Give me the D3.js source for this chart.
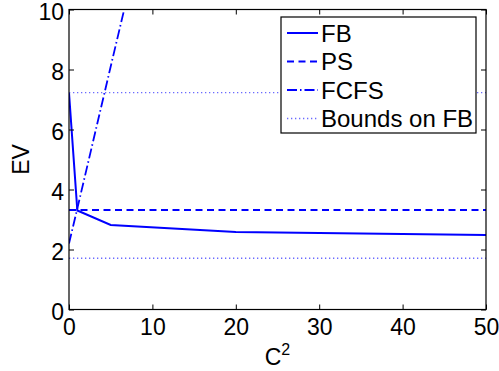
<!DOCTYPE html>
<html>
<head>
<meta charset="utf-8">
<script src="https://cdn.jsdelivr.net/npm/d3@7"></script>
<style>
  body { margin: 0; background: #fff; }
  svg { display: block; font-family: "Liberation Sans", Arial, sans-serif; }
</style>
</head>
<body>
<svg id="chart" width="499" height="371"></svg>
<script>
// values
const c2Values = [0, 1, 5, 20, 50];
const fbValues = [7.22, 3.3, 2.82, 2.58, 2.48];
const psValues = [3.32, 3.32, 3.32, 3.32, 3.32];
const fcfsValues = [2.2, 3.37, 8.1, 25.7, 61.1];
const upperBound = [7.23, 7.23, 7.23, 7.23, 7.23];
const lowerBound = [1.71, 1.71, 1.71, 1.71, 1.71];
const xTicks = [0, 10, 20, 30, 40, 50];
const yTicks = [0, 2, 4, 6, 8, 10];
const legendNames = ["FB", "PS", "FCFS", "Bounds on FB"];

const svg = d3.select("#chart");
const margin = {top: 9.5, right: 13, bottom: 61.5, left: 69};
const width = +svg.attr("width");
const height = +svg.attr("height");

const x = d3.scaleLinear().domain([0, 50]).range([margin.left, width - margin.right]);
const y = d3.scaleLinear().domain([0, 10]).range([height - margin.bottom, margin.top]);

// series styles, matlab look
const series = [
  {name: legendNames[0], values: fbValues, dash: null, width: 2, color: "#0000ff"},
  {name: legendNames[1], values: psValues, dash: "7,4.5", width: 2, color: "#0000ff"},
  {name: legendNames[2], values: fcfsValues, dash: "10,3,1.5,3", width: 1.8, color: "#0000ff"},
  {name: legendNames[3], values: upperBound, dash: "1.3,2.7", width: 1.4, color: "#6a6aff"},
  {name: legendNames[3], values: lowerBound, dash: "1.3,2.7", width: 1.4, color: "#6a6aff"}
];

svg.append("defs").append("clipPath").attr("id", "plot-clip")
  .append("rect")
  .attr("x", margin.left).attr("y", margin.top)
  .attr("width", x(50) - x(0)).attr("height", y(0) - y(10));

const line = d3.line()
  .x((d, i) => x(c2Values[i]))
  .y(d => y(d));

const plot = svg.append("g").attr("clip-path", "url(#plot-clip)");
plot.selectAll("path")
  .data(series)
  .enter().append("path")
  .attr("fill", "none")
  .attr("stroke", d => d.color)
  .attr("stroke-width", d => d.width)
  .attr("stroke-dasharray", d => d.dash)
  .attr("d", d => line(d.values));

// axes: ticks inward on all four sides
const tickLen = 5;
svg.append("g")
  .attr("transform", `translate(0,${y(0)})`)
  .call(d3.axisBottom(x).tickValues(xTicks).tickSizeInner(-tickLen).tickSizeOuter(0).tickPadding(9))
  .call(g => g.select(".domain").remove());
svg.append("g")
  .attr("transform", `translate(0,${y(10)})`)
  .call(d3.axisTop(x).tickValues(xTicks).tickSizeInner(-tickLen).tickSizeOuter(0).tickFormat(""))
  .call(g => g.select(".domain").remove());
svg.append("g")
  .attr("class", "y-left")
  .attr("transform", `translate(${x(0)},0)`)
  .call(d3.axisLeft(y).tickValues(yTicks).tickSizeInner(-tickLen).tickSizeOuter(0).tickPadding(5))
  .call(g => g.select(".domain").remove())
  .call(g => g.selectAll(".tick text").attr("dy", "0.42em"));
svg.append("g")
  .attr("transform", `translate(${x(50)},0)`)
  .call(d3.axisRight(y).tickValues(yTicks).tickSizeInner(-tickLen).tickSizeOuter(0).tickFormat(""))
  .call(g => g.select(".domain").remove());

svg.selectAll(".tick line").attr("stroke", "#000").attr("stroke-width", 1);
svg.selectAll(".tick text")
  .attr("fill", "#000")
  .style("font-size", "23px")
  .style("font-family", "Liberation Sans, Arial, sans-serif");

svg.append("rect")
  .attr("x", x(0)).attr("y", y(10))
  .attr("width", x(50) - x(0)).attr("height", y(0) - y(10))
  .attr("fill", "none").attr("stroke", "#000").attr("stroke-width", 1.2);

// axis titles
svg.append("text")
  .attr("transform", `translate(29,${(y(0) + y(10)) / 2}) rotate(-90)`)
  .attr("text-anchor", "middle")
  .style("font-size", "23px")
  .text("EV");

const xTitle = svg.append("text")
  .attr("x", (x(0) + x(50)) / 2)
  .attr("y", 365)
  .attr("text-anchor", "middle")
  .style("font-size", "23px");
xTitle.append("tspan").text("C");
xTitle.append("tspan").attr("dy", -10).style("font-size", "16px").text("2");

// legend
const legend = svg.append("g").attr("transform", "translate(281,17)");
legend.append("rect")
  .attr("width", 195).attr("height", 116)
  .attr("fill", "#fff").attr("stroke", "#000").attr("stroke-width", 1.2);

const rows = legend.selectAll(".row")
  .data(series.slice(0, 4))
  .enter().append("g")
  .attr("class", "row")
  .attr("transform", (d, i) => `translate(0,${16 + i * 28.5})`);

rows.append("line")
  .attr("x1", 6).attr("x2", 37)
  .attr("stroke", d => d.color)
  .attr("stroke-width", d => d.width)
  .attr("stroke-dasharray", d => d.dash);

rows.append("text")
  .attr("x", 40)
  .attr("dy", "0.36em")
  .style("font-size", "24px")
  .text(d => d.name);
</script>
</body>
</html>
